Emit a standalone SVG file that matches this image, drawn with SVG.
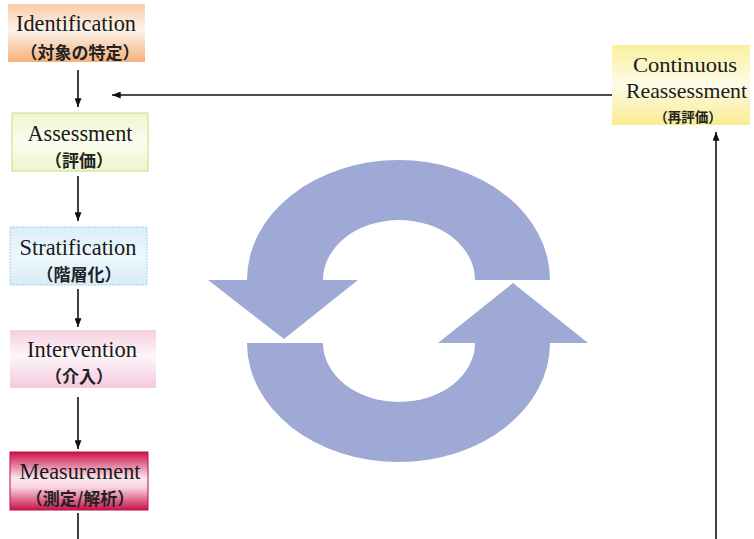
<svg xmlns="http://www.w3.org/2000/svg" width="754" height="539" viewBox="0 0 754 539">
<style>
.en{font-family:"Liberation Serif","Times New Roman",serif;font-size:22.5px;fill:#1a1a1a;text-anchor:middle}
.enr{font-family:"Liberation Serif","Times New Roman",serif;font-size:21px;fill:#1a1a1a;text-anchor:middle}
.jp{font-family:"Noto Sans CJK JP","Noto Sans CJK SC",sans-serif;font-size:17px;font-weight:700;fill:#222;text-anchor:middle}
.jps{font-family:"Noto Sans CJK JP","Noto Sans CJK SC",sans-serif;font-size:13.5px;font-weight:700;fill:#222;text-anchor:middle}
.ln{stroke:#111;stroke-width:1.6;fill:none}
.cyc{fill:#9fa9d5}
</style>
<defs>
<linearGradient id="gId" x1="0" y1="0" x2="0" y2="1"><stop offset="0" stop-color="#f8cca6"/><stop offset="0.45" stop-color="#fdf4ec"/><stop offset="1" stop-color="#f4b079"/></linearGradient>
<linearGradient id="gAs" x1="0" y1="0" x2="0" y2="1"><stop offset="0" stop-color="#eef6cc"/><stop offset="0.5" stop-color="#fbfdf1"/><stop offset="1" stop-color="#eef6cc"/></linearGradient>
<linearGradient id="gSt" x1="0" y1="0" x2="0" y2="1"><stop offset="0" stop-color="#d9eef9"/><stop offset="0.5" stop-color="#eef8fc"/><stop offset="1" stop-color="#d6ecf8"/></linearGradient>
<linearGradient id="gIn" x1="0" y1="0" x2="0" y2="1"><stop offset="0" stop-color="#f6cfe0"/><stop offset="0.45" stop-color="#fdf6f9"/><stop offset="1" stop-color="#f4c9dd"/></linearGradient>
<linearGradient id="gMe" x1="0" y1="0" x2="0" y2="1"><stop offset="0" stop-color="#c8114a"/><stop offset="0.45" stop-color="#fbe6ee"/><stop offset="0.6" stop-color="#f8d8e4"/><stop offset="1" stop-color="#c9124c"/></linearGradient>
<linearGradient id="gCo" x1="0" y1="0" x2="0" y2="1"><stop offset="0" stop-color="#faf09e"/><stop offset="0.5" stop-color="#fefbe8"/><stop offset="1" stop-color="#f8ec90"/></linearGradient>
<marker id="ah" viewBox="0 0 10 8" refX="10" refY="4" markerWidth="9" markerHeight="7" markerUnits="userSpaceOnUse" orient="auto"><path d="M0,0 L10,4 L0,8 Z" fill="#111"/></marker>
</defs>

<g id="cycle">
<path class="cyc" d="M 247 280 A 151.5 120 0 0 1 550 280 L 475 280 A 76 60 0 0 0 323 280 Z"/>
<polygon class="cyc" points="208,280 358,280 284,339"/>
<path class="cyc" d="M 247 343 A 151.5 119 0 0 0 550 343 L 475 343 A 76 59 0 0 1 323 343 Z"/>
<polygon class="cyc" points="438,343 588,343 513,283"/>
</g>

<g id="identification">
<rect x="8" y="4" width="137" height="58" fill="url(#gId)"/>
<text class="en" x="76" y="31" textLength="120" lengthAdjust="spacingAndGlyphs">Identification</text>
<text class="jp" x="80" y="59">（対象の特定）</text>
</g>

<g id="assessment">
<rect x="12" y="113" width="136" height="58" fill="url(#gAs)" stroke="#c6da88" stroke-width="1"/>
<text class="en" x="80" y="141" textLength="105" lengthAdjust="spacingAndGlyphs">Assessment</text>
<text class="jp" x="79" y="167">（評価）</text>
</g>

<g id="stratification">
<rect x="10" y="227" width="137" height="58" fill="url(#gSt)" stroke="#a8d0e6" stroke-width="1" stroke-dasharray="2,1"/>
<text class="en" x="78" y="255" textLength="117" lengthAdjust="spacingAndGlyphs">Stratification</text>
<text class="jp" x="79" y="281">（階層化）</text>
</g>

<g id="intervention">
<rect x="10" y="330" width="146" height="58" fill="url(#gIn)"/>
<text class="en" x="82" y="357" textLength="110" lengthAdjust="spacingAndGlyphs">Intervention</text>
<text class="jp" x="79" y="383">（介入）</text>
</g>

<g id="measurement">
<rect x="10" y="452" width="138" height="58" fill="url(#gMe)" stroke="#b8103f" stroke-width="1"/>
<text class="en" x="80" y="479" textLength="121" lengthAdjust="spacingAndGlyphs">Measurement</text>
<text class="jp" x="80" y="505">（測定/解析）</text>
</g>

<g id="reassessment">
<rect x="612" y="45" width="138" height="80" fill="url(#gCo)"/>
<text class="enr" x="685" y="72" textLength="104" lengthAdjust="spacingAndGlyphs">Continuous</text>
<text class="enr" x="686.5" y="98" textLength="121" lengthAdjust="spacingAndGlyphs">Reassessment</text>
<text class="jps" x="688" y="122">（再評価）</text>
</g>

<g id="connectors">
<line class="ln" x1="78" y1="70" x2="78" y2="107" marker-end="url(#ah)"/>
<line class="ln" x1="78" y1="176" x2="78" y2="221" marker-end="url(#ah)"/>
<line class="ln" x1="78" y1="289" x2="78" y2="327" marker-end="url(#ah)"/>
<line class="ln" x1="78" y1="397" x2="78" y2="449" marker-end="url(#ah)"/>
<line class="ln" x1="78" y1="513" x2="78" y2="539"/>
<line class="ln" x1="612" y1="95" x2="112" y2="95" marker-end="url(#ah)"/>
<line class="ln" x1="716" y1="539" x2="716" y2="132" marker-end="url(#ah)"/>
</g>
</svg>
